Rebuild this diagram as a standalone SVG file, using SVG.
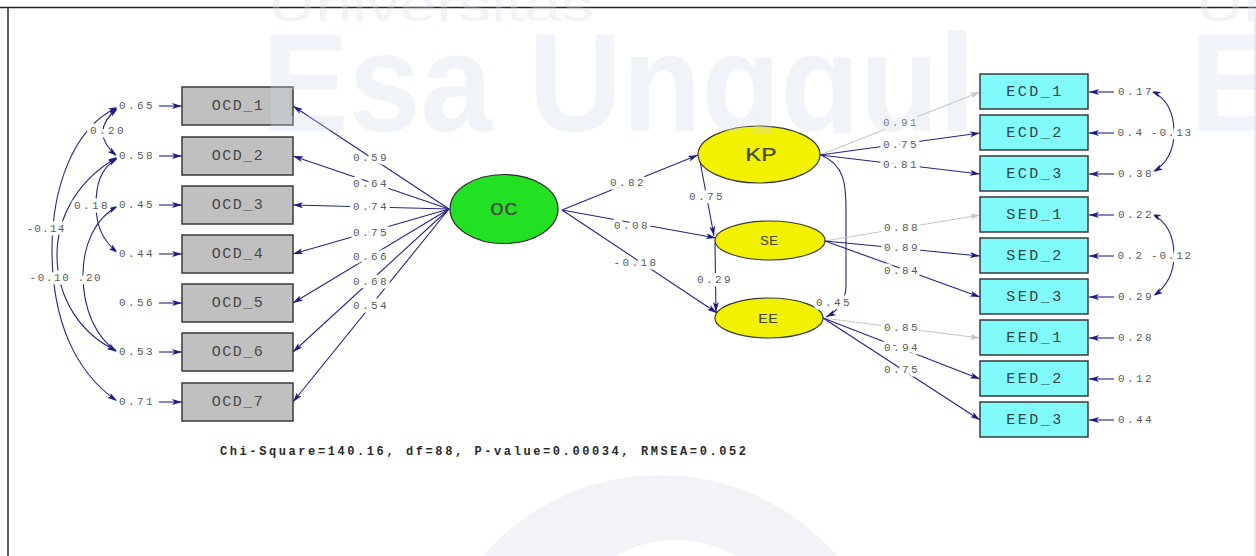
<svg xmlns="http://www.w3.org/2000/svg" width="1256" height="556" viewBox="0 0 1256 556">
  <defs>
    <style>
      .frame{stroke:#2b2b2b;stroke-width:1.5;fill:none}
      .obs{fill:#c0c0c0;stroke:#3a3a3a;stroke-width:1.5}
      .ind{fill:#80fafa;stroke:#3a3a3a;stroke-width:1.5}
      .lat-g{fill:#22e022;stroke:#2a2a2a;stroke-width:1.2}
      .lat-y{fill:#f2f200;stroke:#3a3a3a;stroke-width:1.2}
      .nt{font-family:"Liberation Mono","DejaVu Sans Mono",monospace;font-size:15px;fill:#474747;text-anchor:middle;dominant-baseline:central;letter-spacing:1.5px}
      .nt.c{fill:#2f4545;letter-spacing:2.5px}
      .p{fill:none;stroke:#24248a;stroke-width:1.1;marker-end:url(#ah)}
      .pg{fill:none;stroke:#c6c6c6;stroke-width:1.1;marker-end:url(#ahg)}
      .cov{fill:none;stroke:#24248a;stroke-width:1.1;marker-start:url(#ah);marker-end:url(#ah)}
      .lbl{font-family:"Liberation Mono","DejaVu Sans Mono",monospace;font-size:11px;fill:#5a5a5a;text-anchor:middle;dominant-baseline:central;letter-spacing:2.4px;stroke:#fff;stroke-width:7px;paint-order:stroke;stroke-linejoin:round}
      .fit{font-family:"Liberation Mono","DejaVu Sans Mono",monospace;font-size:12px;font-weight:bold;fill:#2a2a2a}
      .wm{fill:#cfd8e5;opacity:.3}
    </style>
    <marker id="ah" viewBox="0 0 10 6" refX="10" refY="3" markerWidth="10" markerHeight="6" markerUnits="userSpaceOnUse" orient="auto-start-reverse">
      <path d="M0,0 L10,3 L0,6 L2.5,3 z" fill="#1c1c82"/>
    </marker>
    <marker id="ahg" viewBox="0 0 10 6" refX="10" refY="3" markerWidth="10" markerHeight="6" markerUnits="userSpaceOnUse" orient="auto">
      <path d="M0,0 L10,3 L0,6 L2.5,3 z" fill="#c6c6c6"/>
    </marker>
    <clipPath id="wmclip"><rect x="0" y="0" width="1256" height="133"/></clipPath>
  </defs>

  <rect width="1256" height="556" fill="#ffffff"/>

  <!-- page frame -->
  <path class="frame" d="M0,7.5 H1256 M8,7.5 V556"/>
  <path d="M1255,7.5 V556" stroke="#d8d8d8" stroke-width="1"/>

  <g id="connectors">
    <!-- OC loadings on the OCD indicators -->
    <path class="p" d="M449,209 L293,106"/>
    <path class="p" d="M449,209 L293,156"/>
    <path class="p" d="M449,209 L293,205"/>
    <path class="p" d="M449,209 L293,254"/>
    <path class="p" d="M449,209 L293,303"/>
    <path class="p" d="M449,209 L293,352"/>
    <path class="p" d="M449,209 L293,402"/>

    <!-- error variances, left -->
    <path class="p" d="M159,106 H182"/>
    <path class="p" d="M159,156 H182"/>
    <path class="p" d="M159,205 H182"/>
    <path class="p" d="M159,254 H182"/>
    <path class="p" d="M159,303 H182"/>
    <path class="p" d="M159,352 H182"/>
    <path class="p" d="M159,402 H182"/>

    <!-- error covariances, left -->
    <path class="cov" d="M118,108 Q88,132 117,156"/>
    <path class="cov" d="M118,158 C100,168 96,185 96,205 C96,225 102,240 118,253"/>
    <path class="cov" d="M118,107 C72,128 52,190 52,250 C52,320 75,372 117,401"/>
    <path class="cov" d="M118,157 C80,178 57,215 57,255 C57,300 82,335 117,351"/>
    <path class="cov" d="M118,206 C95,218 83,245 83,275 C83,310 96,337 117,352"/>

    <!-- structural paths -->
    <path class="p" d="M562,210 L698,155"/>
    <path class="p" d="M562,210 L716,238"/>
    <path class="p" d="M562,210 L717,313"/>
    <path class="p" d="M700,161 L714,236"/>
    <path class="p" d="M715,243 L716,312"/>
    <path class="p" d="M821,155 C845,165 846,185 846,210 L846,285 C846,300 840,310 826,317"/>

    <!-- KP indicators -->
    <path class="pg" d="M820,155 L980,92"/>
    <path class="p" d="M820,155 L980,133"/>
    <path class="p" d="M820,155 L980,174"/>
    <!-- SE indicators -->
    <path class="pg" d="M825,241 L980,215"/>
    <path class="p" d="M825,241 L980,256"/>
    <path class="p" d="M825,241 L980,297"/>
    <!-- EE indicators -->
    <path class="pg" d="M823,318 L980,338"/>
    <path class="p" d="M823,318 L980,379"/>
    <path class="p" d="M823,318 L980,420"/>

    <!-- error variances, right -->
    <path class="p" d="M1114,92 H1089"/>
    <path class="p" d="M1114,133 H1089"/>
    <path class="p" d="M1114,174 H1089"/>
    <path class="p" d="M1114,215 H1089"/>
    <path class="p" d="M1114,256 H1089"/>
    <path class="p" d="M1114,297 H1089"/>
    <path class="p" d="M1114,338 H1089"/>
    <path class="p" d="M1114,379 H1089"/>
    <path class="p" d="M1114,420 H1089"/>

    <!-- error covariances, right -->
    <path class="cov" d="M1151,91 C1168,98 1174,115 1174,132 C1174,150 1168,163 1153,172"/>
    <path class="cov" d="M1151,214 C1168,221 1174,238 1174,255 C1174,273 1168,286 1153,296"/>
  </g>

  <!-- observed indicators of OC -->
  <g id="OCD_1"><rect class="obs" x="182" y="87" width="111" height="38"/><text class="nt" x="238" y="106">OCD_1</text></g>
  <g id="OCD_2"><rect class="obs" x="182" y="137" width="111" height="38"/><text class="nt" x="238" y="156">OCD_2</text></g>
  <g id="OCD_3"><rect class="obs" x="182" y="186" width="111" height="38"/><text class="nt" x="238" y="205">OCD_3</text></g>
  <g id="OCD_4"><rect class="obs" x="182" y="235" width="111" height="38"/><text class="nt" x="238" y="254">OCD_4</text></g>
  <g id="OCD_5"><rect class="obs" x="182" y="284" width="111" height="38"/><text class="nt" x="238" y="303">OCD_5</text></g>
  <g id="OCD_6"><rect class="obs" x="182" y="333" width="111" height="38"/><text class="nt" x="238" y="352">OCD_6</text></g>
  <g id="OCD_7"><rect class="obs" x="182" y="383" width="111" height="38"/><text class="nt" x="238" y="402">OCD_7</text></g>

  <!-- latent variables -->
  <g id="OC"><ellipse class="lat-g" cx="504" cy="209" rx="54" ry="34.5"/><text class="nt" x="504" y="210" style="font-size:18px;letter-spacing:0" textLength="28" lengthAdjust="spacingAndGlyphs">OC</text></g>
  <g id="KP"><ellipse class="lat-y" cx="759" cy="154.5" rx="61" ry="28.5"/><text class="nt" x="761" y="155" style="font-size:20px;letter-spacing:0" textLength="32" lengthAdjust="spacingAndGlyphs">KP</text></g>
  <g id="SE"><ellipse class="lat-y" cx="770" cy="240.5" rx="55" ry="19.5"/><text class="nt" x="769" y="241" style="font-size:13px;letter-spacing:0" textLength="18" lengthAdjust="spacingAndGlyphs">SE</text></g>
  <g id="EE"><ellipse class="lat-y" cx="769" cy="318" rx="54" ry="20"/><text class="nt" x="768" y="319" style="font-size:13px;letter-spacing:0" textLength="20" lengthAdjust="spacingAndGlyphs">EE</text></g>

  <!-- observed indicators of KP, SE, EE -->
  <g id="ECD_1"><rect class="ind" x="980" y="74" width="108" height="35"/><text class="nt c" x="1035" y="92">ECD_1</text></g>
  <g id="ECD_2"><rect class="ind" x="980" y="115" width="108" height="35"/><text class="nt c" x="1035" y="133">ECD_2</text></g>
  <g id="ECD_3"><rect class="ind" x="980" y="156" width="108" height="35"/><text class="nt c" x="1035" y="174">ECD_3</text></g>
  <g id="SED_1"><rect class="ind" x="980" y="197" width="108" height="35"/><text class="nt c" x="1035" y="215">SED_1</text></g>
  <g id="SED_2"><rect class="ind" x="980" y="238" width="108" height="35"/><text class="nt c" x="1035" y="256">SED_2</text></g>
  <g id="SED_3"><rect class="ind" x="980" y="279" width="108" height="35"/><text class="nt c" x="1035" y="297">SED_3</text></g>
  <g id="EED_1"><rect class="ind" x="980" y="320" width="108" height="35"/><text class="nt c" x="1035" y="338">EED_1</text></g>
  <g id="EED_2"><rect class="ind" x="980" y="361" width="108" height="35"/><text class="nt c" x="1035" y="379">EED_2</text></g>
  <g id="EED_3"><rect class="ind" x="980" y="402" width="108" height="35"/><text class="nt c" x="1035" y="420">EED_3</text></g>

  <g id="path-labels">
    <!-- OC loadings -->
    <text class="lbl" x="371" y="158">0.59</text>
    <text class="lbl" x="371" y="184">0.64</text>
    <text class="lbl" x="371" y="207">0.74</text>
    <text class="lbl" x="371" y="233">0.75</text>
    <text class="lbl" x="371" y="257">0.66</text>
    <text class="lbl" x="371" y="282">0.68</text>
    <text class="lbl" x="371" y="306">0.54</text>
    <!-- structural coefficients -->
    <text class="lbl" x="628" y="183">0.82</text>
    <text class="lbl" x="632" y="226">0.08</text>
    <text class="lbl" x="636" y="263">-0.18</text>
    <text class="lbl" x="707" y="197">0.75</text>
    <text class="lbl" x="715" y="280">0.29</text>
    <text class="lbl" x="834" y="303">0.45</text>
    <!-- right loadings -->
    <text class="lbl" x="901" y="123">0.91</text>
    <text class="lbl" x="901" y="145">0.75</text>
    <text class="lbl" x="901" y="165">0.81</text>
    <text class="lbl" x="902" y="228">0.88</text>
    <text class="lbl" x="902" y="248">0.89</text>
    <text class="lbl" x="902" y="271">0.84</text>
    <text class="lbl" x="902" y="328">0.85</text>
    <text class="lbl" x="902" y="348">0.94</text>
    <text class="lbl" x="902" y="370">0.75</text>
    <!-- error covariances -->
    <text class="lbl" x="108" y="131">0.20</text>
    <text class="lbl" x="92" y="206">0.18</text>
    <text class="lbl" x="46" y="229" style="letter-spacing:1.2px">-0.14</text>
    <text class="lbl" x="50" y="278" style="letter-spacing:1.6px">-0.10</text>
    <text class="lbl" x="90" y="278" style="letter-spacing:1.6px">.20</text>
    <text class="lbl" x="1172" y="133" style="letter-spacing:1.8px">-0.13</text>
    <text class="lbl" x="1172" y="256" style="letter-spacing:1.8px">-0.12</text>
  </g>

  <g id="error-terms">
    <text class="lbl" x="137" y="106">0.65</text>
    <text class="lbl" x="137" y="156">0.58</text>
    <text class="lbl" x="137" y="205">0.45</text>
    <text class="lbl" x="137" y="254">0.44</text>
    <text class="lbl" x="137" y="303">0.56</text>
    <text class="lbl" x="137" y="352">0.53</text>
    <text class="lbl" x="137" y="402">0.71</text>
    <text class="lbl" x="1136" y="92">0.17</text>
    <text class="lbl" x="1131" y="133">0.4</text>
    <text class="lbl" x="1136" y="174">0.38</text>
    <text class="lbl" x="1136" y="215">0.22</text>
    <text class="lbl" x="1131" y="256">0.2</text>
    <text class="lbl" x="1136" y="297">0.29</text>
    <text class="lbl" x="1136" y="338">0.28</text>
    <text class="lbl" x="1136" y="379">0.12</text>
    <text class="lbl" x="1136" y="420">0.44</text>
  </g>

  <text class="fit" x="220" y="455" textLength="526" lengthAdjust="spacing">Chi-Square=140.16, df=88, P-value=0.00034, RMSEA=0.052</text>

  <!-- faint institutional watermark -->
  <g id="watermark">
    <g clip-path="url(#wmclip)">
      <text class="wm" x="268" y="21" font-family="'Liberation Sans',Arial,sans-serif" font-size="44" textLength="326" lengthAdjust="spacingAndGlyphs">Universitas</text>
      <text class="wm" x="1196" y="21" font-family="'Liberation Sans',Arial,sans-serif" font-size="44" textLength="326" lengthAdjust="spacingAndGlyphs">Universitas</text>
      <text class="wm" x="262" y="131" font-family="'Liberation Sans',Arial,sans-serif" font-size="140" font-weight="bold" textLength="713" lengthAdjust="spacingAndGlyphs">Esa Unggul</text>
      <text class="wm" x="1190" y="131" font-family="'Liberation Sans',Arial,sans-serif" font-size="140" font-weight="bold" textLength="713" lengthAdjust="spacingAndGlyphs">Esa Unggul</text>
    </g>
    <path class="wm" fill-rule="evenodd" d="M426,709 A234,234 0 1,1 894,709 A234,234 0 1,1 426,709 Z M556,660 A120,120 0 1,0 796,660 A120,120 0 1,0 556,660 Z"/>
  </g>
</svg>
